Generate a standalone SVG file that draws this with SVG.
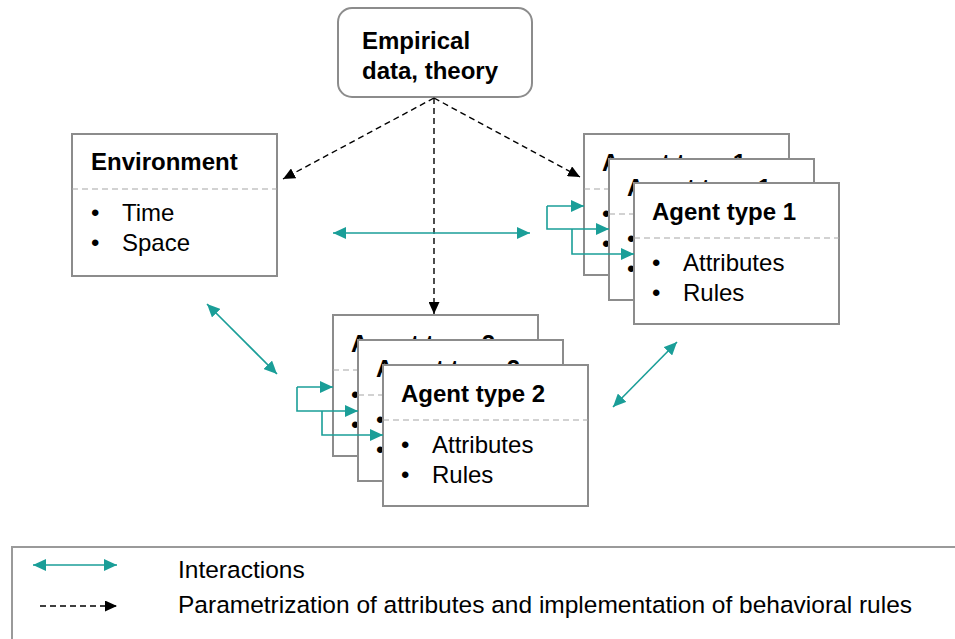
<svg xmlns="http://www.w3.org/2000/svg" width="955" height="639" viewBox="0 0 955 639">
<style>
text{font-family:"Liberation Sans",Arial,sans-serif;font-size:24px;fill:#000}
.t{font-weight:bold}
.lg{font-size:24.5px}
.card{fill:#fff;stroke:#8c8c8c;stroke-width:2}
.div{stroke:#a6a6a6;stroke-width:1.2;stroke-dasharray:6 4;fill:none}
.teal{stroke:#1a9e98;stroke-width:1.6;fill:none}
.dash{stroke:#000;stroke-width:1.4;stroke-dasharray:6 4;fill:none}
</style>
<defs>
<marker id="ta" markerUnits="userSpaceOnUse" markerWidth="13" markerHeight="12" refX="13" refY="6" orient="auto-start-reverse" viewBox="0 0 13 12"><path d="M0,0 L13,6 L0,12 z" fill="#1a9e98"/></marker>
<marker id="ba" markerUnits="userSpaceOnUse" markerWidth="12" markerHeight="11" refX="12" refY="5.5" orient="auto" viewBox="0 0 12 11"><path d="M0,0 L12,5.5 L0,11 z" fill="#000"/></marker>
<g id="card">
<rect class="card" x="0" y="0" width="205" height="141"/>
<line class="div" x1="0" y1="55" x2="205" y2="55"/>
</g>
</defs>

<g id="empirical">
<rect x="338" y="8" width="194" height="89" rx="14" fill="#fff" stroke="#8c8c8c" stroke-width="2"/>
<text class="t" x="362" y="49">Empirical</text>
<text class="t" x="362" y="79">data, theory</text>
</g>

<g id="environment">
<rect class="card" x="72" y="134" width="205" height="142"/>
<line class="div" x1="72" y1="189" x2="277" y2="189"/>
<text class="t" x="91" y="170">Environment</text>
<text x="91" y="221">•</text><text x="122" y="221">Time</text>
<text x="91" y="251">•</text><text x="122" y="251">Space</text>
</g>

<g id="agent1">
<g transform="translate(584,134)">
<use href="#card"/>
<text class="t" x="18" y="37">Agent type 1</text>
<text x="18" y="88">•</text><text x="49" y="88">Attributes</text>
<text x="18" y="118">•</text><text x="49" y="118">Rules</text>
</g>
<g transform="translate(609,159)">
<use href="#card"/>
<text class="t" x="18" y="37">Agent type 1</text>
<text x="18" y="88">•</text><text x="49" y="88">Attributes</text>
<text x="18" y="118">•</text><text x="49" y="118">Rules</text>
</g>
<g transform="translate(634,183)">
<use href="#card"/>
<text class="t" x="18" y="37">Agent type 1</text>
<text x="18" y="88">•</text><text x="49" y="88">Attributes</text>
<text x="18" y="118">•</text><text x="49" y="118">Rules</text>
</g>
</g>

<g id="agent2">
<g transform="translate(333,315)">
<use href="#card"/>
<text class="t" x="18" y="37">Agent type 2</text>
<text x="18" y="88">•</text><text x="49" y="88">Attributes</text>
<text x="18" y="118">•</text><text x="49" y="118">Rules</text>
</g>
<g transform="translate(358,340)">
<use href="#card"/>
<text class="t" x="18" y="37">Agent type 2</text>
<text x="18" y="88">•</text><text x="49" y="88">Attributes</text>
<text x="18" y="118">•</text><text x="49" y="118">Rules</text>
</g>
<g transform="translate(383,365)">
<use href="#card"/>
<text class="t" x="18" y="37">Agent type 2</text>
<text x="18" y="88">•</text><text x="49" y="88">Attributes</text>
<text x="18" y="118">•</text><text x="49" y="118">Rules</text>
</g>
</g>

<g id="connectors">
<line class="dash" x1="434" y1="98" x2="283" y2="179" marker-end="url(#ba)"/>
<line class="dash" x1="434" y1="98" x2="580" y2="177" marker-end="url(#ba)"/>
<line class="dash" x1="434" y1="98" x2="434" y2="314" marker-end="url(#ba)"/>
<line class="teal" x1="333" y1="233" x2="530" y2="233" marker-start="url(#ta)" marker-end="url(#ta)"/>
<line class="teal" x1="207" y1="304" x2="277" y2="374" marker-start="url(#ta)" marker-end="url(#ta)"/>
<line class="teal" x1="613" y1="407" x2="677" y2="342" marker-start="url(#ta)" marker-end="url(#ta)"/>
<path class="teal" d="M547,206 H584" marker-end="url(#ta)"/>
<path class="teal" d="M547,206 V229 H609" marker-end="url(#ta)"/>
<path class="teal" d="M572,229 V254 H634" marker-end="url(#ta)"/>
<path class="teal" d="M297,387 H333" marker-end="url(#ta)"/>
<path class="teal" d="M297,387 V411 H358" marker-end="url(#ta)"/>
<path class="teal" d="M322,411 V435 H383" marker-end="url(#ta)"/>
</g>

<g id="legend">
<rect x="12" y="547" width="960" height="110" fill="none" stroke="#9a9a9a" stroke-width="2"/>
<line class="teal" x1="33" y1="565" x2="117" y2="565" marker-start="url(#ta)" marker-end="url(#ta)"/>
<text class="lg" x="178" y="578">Interactions</text>
<line class="dash" x1="40" y1="606" x2="117" y2="606" marker-end="url(#ba)"/>
<text class="lg" x="178" y="613">Parametrization of attributes and implementation of behavioral rules</text>
</g>
</svg>
